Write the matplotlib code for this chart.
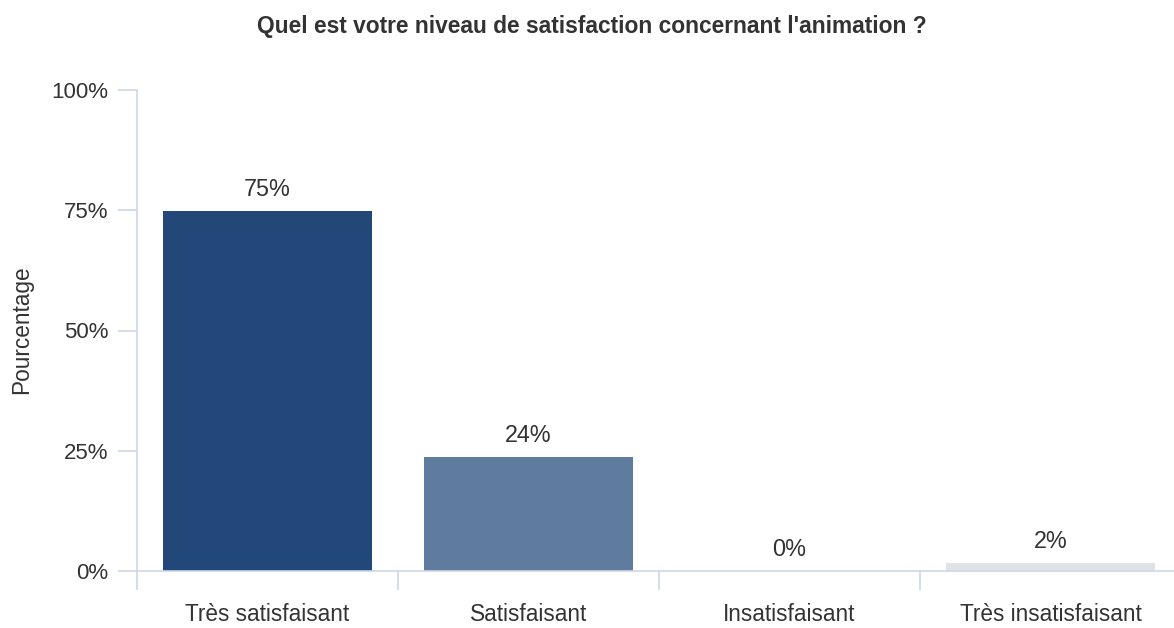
import matplotlib
matplotlib.use("Agg")
import matplotlib.pyplot as plt
from matplotlib.ticker import FixedLocator, NullFormatter, FixedFormatter

plt.rcParams['font.family'] = ['Liberation Sans', 'DejaVu Sans']

categories = ["Très satisfaisant", "Satisfaisant", "Insatisfaisant", "Très insatisfaisant"]
values = [74.8, 23.7, 0.0, 1.7]
colors = ["#214878", "#5f7b9d", "#4f6f95", "#e1e2e3"]
yticks = [0, 25, 50, 75, 100]
title = "Quel est votre niveau de satisfaction concernant l'animation ?"
ylabel = "Pourcentage"

W, H = 1174, 628
fig = plt.figure(figsize=(W / 100, H / 100), dpi=100)
ax = fig.add_axes([137 / W, 1 - 571 / H, 1 - 137 / W, (571 - 90) / H])

axis_col = "#ccd6eb"
text_col = "#333333"
x = list(range(len(categories)))
band_px = 261.0
ax.bar(x, values, width=0.8, color=colors, zorder=2)
ax.set_xlim(-0.5, 3.5 - 7 / band_px)
ax.set_ylim(0, 100)

for xi, v in zip(x, values):
    ax.annotate(f"{round(v)}%", (xi, v), xytext=(0, 15.5), textcoords="offset points",
                ha="center", va="center", fontsize=16.8, color=text_col)

ax.yaxis.set_major_locator(FixedLocator(yticks))
ax.set_yticklabels([f"{t}%" for t in yticks])
ax.tick_params(axis="y", length=13.7, color=axis_col, width=1.2, labelsize=16,
               labelcolor=text_col, pad=7)

ax.xaxis.set_major_locator(FixedLocator([-0.5, 0.5, 1.5, 2.5, 3.5]))
ax.xaxis.set_major_formatter(NullFormatter())
ax.xaxis.set_minor_locator(FixedLocator(x))
ax.xaxis.set_minor_formatter(FixedFormatter(categories))
ax.tick_params(axis="x", which="major", length=13.7, color=axis_col, width=1.2)
ax.tick_params(axis="x", which="minor", length=0, labelsize=16.3, labelcolor=text_col, pad=23)

for s in ["top", "right"]:
    ax.spines[s].set_visible(False)
for s in ["left", "bottom"]:
    ax.spines[s].set_color(axis_col)
    ax.spines[s].set_linewidth(1.2)

fig.text(22 / W, 1 - 330 / H, ylabel, rotation=90, ha="center", va="center",
         fontsize=16.3, color=text_col)
fig.text(592 / W, 1 - 27 / H, title, ha="center", va="center", fontsize=16.4,
         fontweight="bold", color=text_col)

fig.savefig("out.png", dpi=100, facecolor="white")
